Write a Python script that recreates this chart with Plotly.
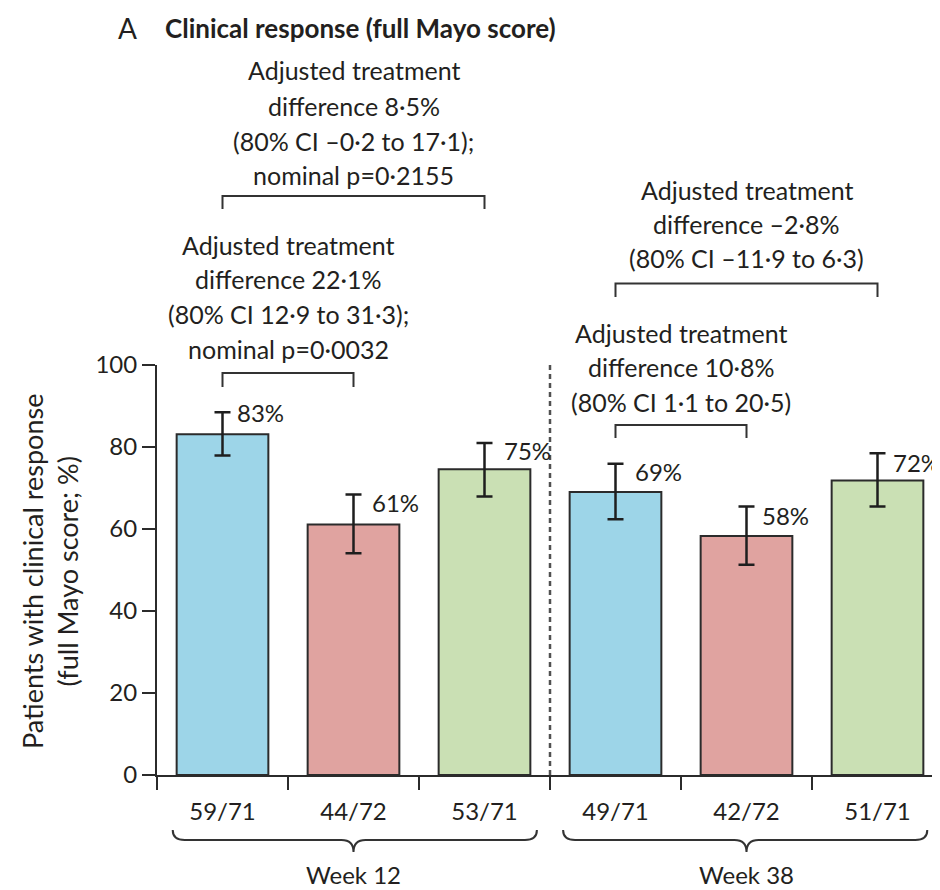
import plotly.graph_objects as go

# ---------------- data ----------------
categories = ["59/71", "44/72", "53/71", "49/71", "42/72", "51/71"]
pct = [83.1, 61.1, 74.6, 69.0, 58.3, 71.8]
ci_upper = [88.5, 68.4, 81.0, 75.9, 65.5, 78.5]
ci_lower = [77.9, 54.1, 67.9, 62.4, 51.3, 65.5]
pct_labels = ["83%", "61%", "75%", "69%", "58%", "72%"]
groups = ["Week 12", "Week 38"]
group_centers = [1, 4]
y_ticks = [0, 20, 40, 60, 80, 100]

comparisons = [
    {"pair": (0, 2), "center": 1.0,
     "lines": ["Adjusted treatment", "difference 8·5%", "(80% CI –0·2 to 17·1);", "nominal p=0·2155"]},
    {"pair": (0, 1), "center": 0.5,
     "lines": ["Adjusted treatment", "difference 22·1%", "(80% CI 12·9 to 31·3);", "nominal p=0·0032"]},
    {"pair": (3, 5), "center": 4.0,
     "lines": ["Adjusted treatment", "difference –2·8%", "(80% CI –11·9 to 6·3)"]},
    {"pair": (3, 4), "center": 3.5,
     "lines": ["Adjusted treatment", "difference 10·8%", "(80% CI 1·1 to 20·5)"]},
]

# ---------------- styling ----------------
PAGE_OFF = 8                      # body margin of the html page
W, H = 940 - PAGE_OFF, 890 - PAGE_OFF
PLOT_TOP, PLOT_BOTTOM = 365, 775  # in screen pixels
PLOT_LEFT, PLOT_RIGHT = 157, 940
FONT = "Lato"
TXT = "#231f20"
LINE = "#2b2b2b"
bar_colors = ["#9dd5e8", "#e0a3a0", "#cae0b4"] * 2
label_xshift = [12, 16, 17, 17, 13, 13]
label_yshift = [0, -8, -8, -8, -9, -9]

# layout positions (screen pixel rows) for the comparison blocks
bracket_rows = [(196, 209), (373, 387), (283.5, 297), (425, 438)]
text_rows = [[70, 106, 141, 175], [245, 279, 314, 349], [190, 224, 258], [333, 367, 402]]


def py(pix):
    return (PLOT_BOTTOM - pix) / (PLOT_BOTTOM - PLOT_TOP)


def px(pix):
    return (pix - PLOT_LEFT) / (PLOT_RIGHT - PLOT_LEFT)


x = list(range(len(categories)))
err_plus = [u - v for u, v in zip(ci_upper, pct)]
err_minus = [v - l for v, l in zip(pct, ci_lower)]

fig = go.Figure()
fig.add_trace(go.Bar(
    x=x, y=pct, width=0.70,
    marker=dict(color=bar_colors, line=dict(color=LINE, width=2)),
    error_y=dict(type="data", array=err_plus, arrayminus=err_minus,
                 color="#1e1e1e", thickness=2.5, width=8),
    hoverinfo="skip", showlegend=False,
))

annotations = []
shapes = []

# percentage labels
for i, lab in enumerate(pct_labels):
    annotations.append(dict(
        x=i, y=ci_upper[i], xref="x", yref="y", text=lab, showarrow=False,
        xanchor="left", yanchor="middle", xshift=label_xshift[i], yshift=label_yshift[i],
        font=dict(family=FONT, size=24, color=TXT)))

# comparison blocks
for comp, (ytop, yleg), rows in zip(comparisons, bracket_rows, text_rows):
    a, b = comp["pair"]
    shapes.append(dict(type="path", xref="x", yref="paper",
                       path=f"M {a},{py(yleg)} L {a},{py(ytop)} L {b},{py(ytop)} L {b},{py(yleg)}",
                       line=dict(color="#333333", width=2)))
    for line_txt, r in zip(comp["lines"], rows):
        annotations.append(dict(
            x=comp["center"], y=py(r), xref="x", yref="paper", text=line_txt,
            showarrow=False, xanchor="center", yanchor="middle",
            font=dict(family=FONT, size=25, color=TXT)))

# dashed separator between weeks
shapes.append(dict(type="line", xref="x", yref="y", x0=2.5, x1=2.5, y0=0, y1=100.6,
                   line=dict(color="#505050", width=2.5, dash="5px,4px")))

# curly braces under the groups
brace_ends = [(-0.38, 2.40), (2.60, 5.38)]
d = 12 / 131
for (l, r), c in zip(brace_ends, group_centers):
    y_end, y_mid, y_tip = py(830), py(840), py(852)
    path = (f"M {l},{y_end} Q {l},{y_mid} {l + d},{y_mid} L {c - d},{y_mid} "
            f"Q {c},{y_mid} {c},{y_tip} Q {c},{y_mid} {c + d},{y_mid} "
            f"L {r - d},{y_mid} Q {r},{y_mid} {r},{y_end}")
    shapes.append(dict(type="path", xref="x", yref="paper", path=path,
                       line=dict(color="#333333", width=2)))

for g, c in zip(groups, group_centers):
    annotations.append(dict(x=c, y=py(874), xref="x", yref="paper", text=g,
                            showarrow=False, xanchor="center", yanchor="middle",
                            font=dict(family=FONT, size=24, color=TXT)))

# y-axis title
annotations.append(dict(x=px(50), y=py(572), xref="paper", yref="paper",
                        text="Patients with clinical response<br>(full Mayo score; %)",
                        textangle=-90, showarrow=False, xanchor="center", yanchor="middle",
                        font=dict(family=FONT, size=27, color=TXT)))

# panel title
annotations.append(dict(x=px(116), y=py(28), xref="paper", yref="paper", text="A",
                        showarrow=False, xanchor="left", yanchor="middle",
                        font=dict(family=FONT, size=28, color=TXT)))
annotations.append(dict(x=px(163), y=py(28), xref="paper", yref="paper",
                        text="<b>Clinical response (full Mayo score)</b>",
                        showarrow=False, xanchor="left", yanchor="middle",
                        font=dict(family=FONT, size=26, color=TXT)))

fig.update_layout(
    width=W, height=H, autosize=False,
    margin=dict(l=PLOT_LEFT - PAGE_OFF, r=0, t=PLOT_TOP - PAGE_OFF,
                b=H - (PLOT_BOTTOM - PAGE_OFF), pad=0),
    plot_bgcolor="white", paper_bgcolor="white",
    font=dict(family=FONT, color=TXT),
    annotations=annotations, shapes=shapes,
    xaxis=dict(range=[-0.5, -0.5 + (PLOT_RIGHT - PLOT_LEFT) / 131], tickvals=x, ticktext=categories,
               ticks="outside", ticklen=14, tickcolor="rgba(0,0,0,0)",
               tickfont=dict(family=FONT, size=24, color=TXT),
               showline=True, linecolor=LINE, linewidth=2, showgrid=False, zeroline=False,
               minor=dict(tick0=-0.5, dtick=1, ticks="outside", ticklen=13, tickwidth=2,
                          tickcolor=LINE, showgrid=False)),
    yaxis=dict(range=[0, 100], tickvals=y_ticks, ticks="outside", ticklen=13, tickwidth=2,
               tickcolor=LINE, tickfont=dict(family=FONT, size=24, color=TXT),
               showline=True, linecolor=LINE, linewidth=2, showgrid=False, zeroline=False),
)

fig.write_html("out.html")
